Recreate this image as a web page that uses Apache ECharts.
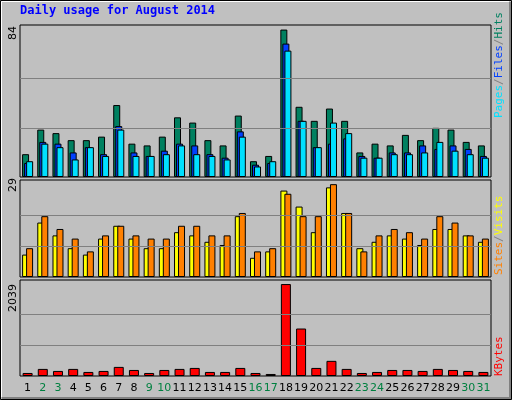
<!DOCTYPE html>
<html><head><meta charset="utf-8">
<script src="https://cdn.jsdelivr.net/npm/echarts@6/dist/echarts.min.js"></script>
<style>html,body{margin:0;padding:0;background:#c0c0c0}#c{width:512px;height:400px}</style>
</head><body><div id="c"></div>
<script>
const days = ['1','2','3','4','5','6','7','8','9','10','11','12','13','14','15','16','17','18','19','20','21','22','23','24','25','26','27','28','29','30','31'];
const weekend = ['2','3','9','10','16','17','23','24','30','31'];
const hits  = [13,27,25,21,21,23,41,19,18,23,34,31,21,18,35,9,12,84,40,32,39,32,14,19,18,24,21,28,27,20,18];
const files = [8,20,19,14,17,13,29,14,12,15,19,18,13,11,26,7,8,76,32,17,19,22,12,11,14,14,18,16,18,16,12];
const pages = [9,19,17,10,17,12,27,12,12,13,18,13,12,10,23,6,9,72,32,17,31,25,11,11,13,13,14,20,15,13,11];
const sites = [7,17,13,9,7,12,16,12,9,9,14,13,11,10,19,6,8,27,22,14,28,20,9,11,13,12,10,15,15,13,11];
const visits= [9,19,15,12,8,13,16,13,12,12,16,16,13,13,20,8,9,26,19,19,29,20,8,13,15,14,12,19,17,13,12];
const kbytes= [67,157,112,157,90,112,202,134,67,134,157,179,90,90,179,67,45,2039,1053,179,336,157,67,90,134,134,112,157,134,112,90];
const maxHits = 84, maxVisits = 29, maxKB = 2039;

const ch = echarts.init(document.getElementById('c'));
const bs = {borderColor:'#000',borderWidth:1};
function grid(top,h){return {left:20,right:21,top:top,height:h,show:true,backgroundColor:'#c0c0c0',borderColor:'#000',borderWidth:1};}
function xa(i,show){return {type:'category',data:days,gridIndex:i,axisLine:{show:false},axisTick:{show:false},
  axisLabel:{show:show,margin:7,fontFamily:'DejaVu Sans',fontSize:11,interval:0,color:v=>weekend.includes(v)?'#008040':'#000'}};}
function ya(i,max){return {type:'value',gridIndex:i,min:0,max:max,splitLine:{show:false},axisLabel:{show:false},axisLine:{show:false},axisTick:{show:false}};}
function ml(m){return {silent:true,symbol:'none',label:{show:false},lineStyle:{color:'#808080',type:'solid',width:1},data:[{yAxis:m/3},{yAxis:2*m/3}]};}
const mono = 'DejaVu Sans Mono';
ch.setOption({
  animation:false,
  backgroundColor:'#c0c0c0',
  grid:[grid(25,152),grid(180,97),grid(280,96)],
  xAxis:[xa(0,false),xa(1,false),xa(2,true)],
  yAxis:[ya(0,86.6),ya(1,30.3),ya(2,2129)],
  series:[
    {type:'bar',data:hits,xAxisIndex:0,yAxisIndex:0,barWidth:7,barGap:'-71%',itemStyle:Object.assign({color:'#008060'},bs),markLine:ml(maxHits),z:2},
    {type:'bar',data:files,xAxisIndex:0,yAxisIndex:0,barWidth:7,barGap:'-71%',itemStyle:Object.assign({color:'#0040ff'},bs),z:3},
    {type:'bar',data:pages,xAxisIndex:0,yAxisIndex:0,barWidth:7,barGap:'-71%',itemStyle:Object.assign({color:'#00e0ff'},bs),z:4},
    {type:'bar',data:sites,xAxisIndex:1,yAxisIndex:1,barWidth:7,barGap:'-43%',itemStyle:Object.assign({color:'#ffff00'},bs),markLine:ml(maxVisits),z:2},
    {type:'bar',data:visits,xAxisIndex:1,yAxisIndex:1,barWidth:7,barGap:'-43%',itemStyle:Object.assign({color:'#ff8000'},bs),z:3},
    {type:'bar',data:kbytes,xAxisIndex:2,yAxisIndex:2,barWidth:10,itemStyle:Object.assign({color:'#ff0000'},bs),markLine:ml(maxKB),z:2}
  ],
  graphic:[
    {type:'rect',shape:{x:0.5,y:0.5,width:511,height:399},style:{fill:'none',stroke:'#000',lineWidth:1},z:-1},
    {type:'polyline',shape:{points:[[2,398],[510,398],[510,2]]},style:{stroke:'#808080',lineWidth:2,fill:'none'}},
    {type:'polyline',shape:{points:[[1.5,397],[1.5,1.5],[509,1.5]]},style:{stroke:'#fff',lineWidth:1,fill:'none'}},
    {type:'text',left:20,top:5,style:{text:'Daily usage for August 2014',fill:'#0000ff',font:'bold 12px "'+mono+'"'}},
    {type:'text',x:8,y:40,rotation:Math.PI/2,style:{text:'84',fill:'#000',font:'11px "DejaVu Sans"'}},
    {type:'text',x:8,y:192,rotation:Math.PI/2,style:{text:'29',fill:'#000',font:'11px "DejaVu Sans"'}},
    {type:'text',x:8,y:312,rotation:Math.PI/2,style:{text:'2039',fill:'#000',font:'11px "DejaVu Sans"'}},
    {type:'text',x:494,y:118,rotation:Math.PI/2,style:{text:'{p|Pages}{s|/}{f|Files}{s|/}{h|Hits}',font:'11px "'+mono+'"',
      rich:{p:{fill:'#00e0ff',font:'11px "'+mono+'"'},s:{fill:'#808080',font:'11px "'+mono+'"'},f:{fill:'#0040ff',font:'11px "'+mono+'"'},h:{fill:'#008060',font:'11px "'+mono+'"'}}}},
    {type:'text',x:494,y:275,rotation:Math.PI/2,style:{text:'{a|Sites}{s|/}{b|Visits}',font:'11px "'+mono+'"',
      rich:{a:{fill:'#ff8000',font:'11px "'+mono+'"'},s:{fill:'#808080',font:'11px "'+mono+'"'},b:{fill:'#ffff00',font:'11px "'+mono+'"'}}}},
    {type:'text',x:494,y:376,rotation:Math.PI/2,style:{text:'KBytes',fill:'#ff0000',font:'11px "'+mono+'"'}}
  ]
});
</script></body></html>
